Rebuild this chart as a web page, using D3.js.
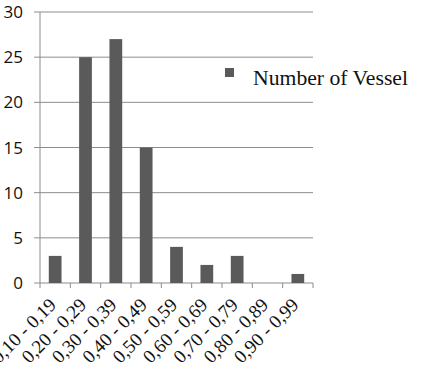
<!DOCTYPE html>
<html><head><meta charset="utf-8">
<script src="https://cdn.jsdelivr.net/npm/d3@7"></script>
<style>body{margin:0;background:#fff}svg{display:block}</style>
</head><body>
<script>
const categories = ["0,10 - 0,19","0,20 - 0,29","0,30 - 0,39","0,40 - 0,49","0,50 - 0,59","0,60 - 0,69","0,70 - 0,79","0,80 - 0,89","0,90 - 0,99"];
const values = [3,25,27,15,4,2,3,0,1];
const yTicks = [0,5,10,15,20,25,30];
const seriesName = "Number of Vessel";

(function(){
const W=421,H=366;
const svg=d3.select("body").append("svg").attr("width",W).attr("height",H);
const pl=40,pr=313,pt=12,pb=283;
const x=d3.scaleBand().domain(categories).range([pl,pr]).paddingInner(0.58).paddingOuter(0.29);
const y=d3.scaleLinear().domain([0,30]).range([pb,pt]);

svg.append("g").selectAll("line").data(yTicks).join("line")
  .attr("x1",34).attr("x2",pr).attr("y1",d=>y(d)).attr("y2",d=>y(d))
  .attr("stroke","#8c8c8c").attr("stroke-width",1);
svg.append("line").attr("x1",pl).attr("x2",pl).attr("y1",pt).attr("y2",pb).attr("stroke","#8c8c8c");
svg.append("g").selectAll("text").data(yTicks).join("text")
  .attr("x",23).attr("y",d=>y(d)).attr("dy","0.36em").attr("text-anchor","end")
  .attr("font-family","Open Sans, Liberation Sans, sans-serif").attr("font-size",17).attr("fill","#111")
  .text(d=>d);
svg.append("g").selectAll("rect").data(values).join("rect")
  .attr("x",(d,i)=>x(categories[i])).attr("width",x.bandwidth())
  .attr("y",d=>y(d)).attr("height",d=>pb-y(d)).attr("fill","#5a5a5a");
const tickX=d3.range(categories.length+1).map(i=>pl+i*(pr-pl)/categories.length);
svg.append("g").selectAll("line").data(tickX).join("line")
  .attr("x1",d=>d).attr("x2",d=>d).attr("y1",pb).attr("y2",pb+5).attr("stroke","#8c8c8c");
svg.append("g").selectAll("text").data(categories).join("text")
  .attr("transform",d=>`translate(${x(d)+x.bandwidth()/2+2},${pb+23}) rotate(-45)`)
  .attr("text-anchor","end")
  .attr("font-family","Liberation Serif, Times New Roman, serif").attr("font-size",19).attr("fill","#111")
  .text(d=>d);
svg.append("rect").attr("x",225).attr("y",68).attr("width",9).attr("height",9).attr("fill","#5a5a5a");
svg.append("text").attr("x",253).attr("y",85)
  .attr("font-family","Liberation Serif, Times New Roman, serif").attr("font-size",21.7).attr("fill","#111")
  .text(seriesName);
})();
</script>
</body></html>
